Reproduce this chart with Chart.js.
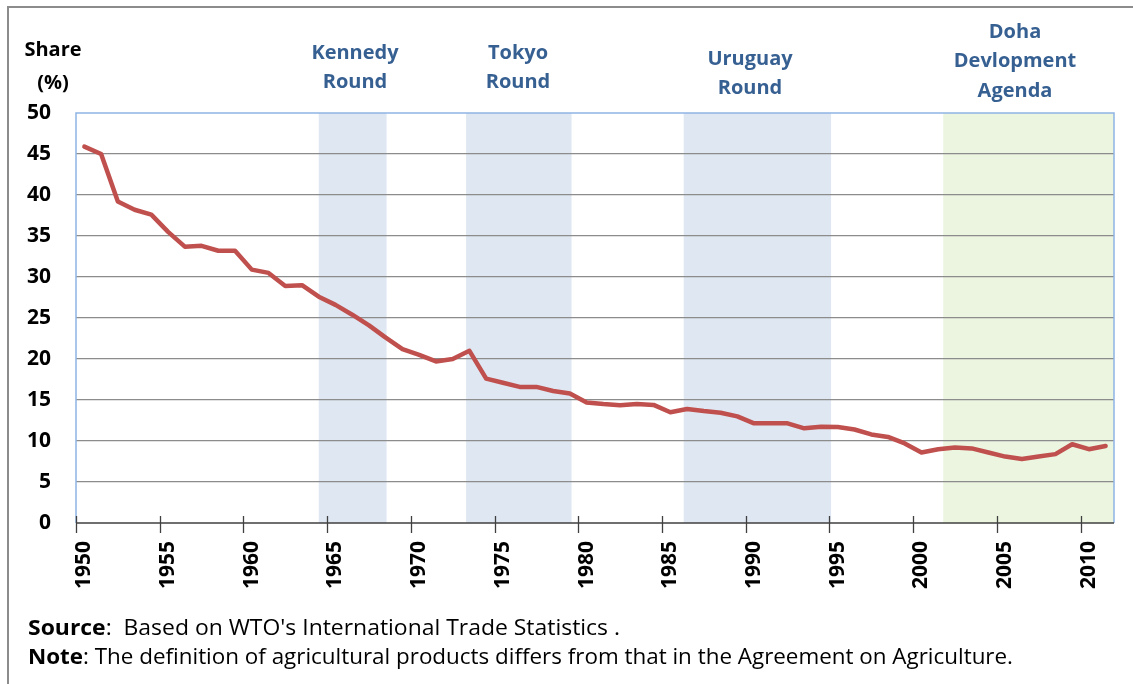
<!DOCTYPE html>
<html>
<head>
<meta charset="utf-8">
<script src="https://cdn.jsdelivr.net/npm/chart.js@4.4.0/dist/chart.umd.min.js"></script>
<style>
  html, body { margin: 0; padding: 0; background: #fff; }
  #wrap { width: 1133px; height: 684px; position: relative; }
</style>
</head>
<body>
<div id="wrap"><canvas id="shareChart"></canvas></div>
<script>
// years 1950..2011, share of agricultural products in world merchandise trade (%)
const years = []
for (let y = 1950; y <= 2011; y++) years.push(y)

const shareValues = [
    45.9, 45.0, 39.2, 38.2, 37.6, 35.5, 33.7, 33.8, 33.2, 33.2,
    30.9, 30.5, 28.9, 29.0, 27.6, 26.6, 25.4, 24.1, 22.6, 21.2,
    20.5, 19.7, 20.0, 21.0, 17.6, 17.1, 16.6, 16.6, 16.1, 15.8,
    14.7, 14.5, 14.35, 14.5, 14.4, 13.5, 13.9, 13.65, 13.45, 13.0,
    12.15, 12.15, 12.15, 11.55, 11.75, 11.7, 11.4, 10.8, 10.5, 9.7,
    8.6, 9.0, 9.2, 9.1, 8.6, 8.1, 7.8, 8.1, 8.4, 9.6,
    9.0, 9.4
]

const xTickYears = [1950, 1955, 1960, 1965, 1970, 1975, 1980, 1985, 1990, 1995, 2000, 2005, 2010]
const yTicks = [0, 5, 10, 15, 20, 25, 30, 35, 40, 45, 50]

// negotiation rounds: name lines, shaded span (in years)
const roundNames = [['Kennedy', 'Round'], ['Tokyo', 'Round'], ['Uruguay', 'Round'], ['Doha', 'Devlopment', 'Agenda']]
const roundStart = [1964.0, 1972.8, 1985.8, 2001.3]
const roundEnd = [1968.05, 1979.1, 1994.6, 2011.5]

const BLUE_BAND = '#dfe7f2'
const GREEN_BAND = '#ebf5e0'
const LABEL_BLUE = '#376092'
const FONT = '"Open Sans"'

const chartDecor = {
    id: 'chartDecor',
    beforeDraw(chart) {
        const {ctx, chartArea: a, scales: {x}} = chart
        ctx.save()
        ctx.fillStyle = '#fff'
        ctx.fillRect(0, 0, chart.width, chart.height)

        // outer frame (top and left only visible)
        ctx.strokeStyle = '#8c8c8c'
        ctx.lineWidth = 2
        ctx.beginPath()
        ctx.moveTo(8, chart.height)
        ctx.lineTo(8, 7)
        ctx.lineTo(chart.width, 7)
        ctx.stroke()

        roundStart.forEach((s, i) => {
            const x1 = x.getPixelForValue(s)
            const x2 = Math.min(x.getPixelForValue(roundEnd[i]), a.right)
            ctx.fillStyle = i === 3 ? GREEN_BAND : BLUE_BAND
            ctx.fillRect(x1, a.top, x2 - x1, a.bottom - a.top)
        })
        ctx.restore()
    },
    afterDraw(chart) {
        const {ctx, chartArea: a, scales: {x}} = chart
        ctx.save()

        // plot area border
        ctx.strokeStyle = '#8eb4e3'
        ctx.lineWidth = 1.5
        ctx.beginPath()
        ctx.moveTo(a.left, a.bottom)
        ctx.lineTo(a.left, a.top)
        ctx.lineTo(a.right, a.top)
        ctx.lineTo(a.right, a.bottom)
        ctx.stroke()

        // x axis line and crossing tick marks at category boundaries
        ctx.strokeStyle = '#404040'
        ctx.lineWidth = 1.3
        ctx.beginPath()
        ctx.moveTo(a.left, a.bottom)
        ctx.lineTo(a.right, a.bottom)
        xTickYears.forEach(yr => {
            const px = Math.round(x.getPixelForValue(yr - 0.5)) + 0.5
            ctx.moveTo(px, a.bottom - 7)
            ctx.lineTo(px, a.bottom + 10)
        })
        ctx.stroke()

        // axis title
        ctx.fillStyle = '#000'
        ctx.font = 'bold 20px ' + FONT
        ctx.textAlign = 'center'
        ctx.textBaseline = 'middle'
        ctx.fillText('Share', 53, 50)
        ctx.fillText('(%)', 53, 83)

        // round labels
        const labelX = [355, 518, 750, 1015]
        const labelTop = [53, 53, 59, 32]
        ctx.fillStyle = LABEL_BLUE
        ctx.font = 'bold 20px ' + FONT
        roundNames.forEach((lines, i) => {
            lines.forEach((t, j) => ctx.fillText(t, labelX[i], labelTop[i] + j * 29.5))
        })

        // footnotes
        drawNote(ctx, 'Source', ':  Based on WTO\'s International Trade Statistics .', 28, 629, 592)
        drawNote(ctx, 'Note', ': The definition of agricultural products differs from that in the Agreement on Agriculture.', 28, 658, 985)
        ctx.restore()
    }
}

function drawNote(ctx, boldPart, rest, x, y, targetWidth) {
    ctx.save()
    ctx.textAlign = 'left'
    ctx.textBaseline = 'middle'
    ctx.fillStyle = '#000'
    ctx.font = 'bold 21px ' + FONT
    const w1 = ctx.measureText(boldPart).width
    ctx.font = '21px ' + FONT
    const w2 = ctx.measureText(rest).width
    const s = targetWidth / (w1 + w2)
    ctx.translate(x, y)
    ctx.scale(s, 1)
    ctx.font = 'bold 21px ' + FONT
    ctx.fillText(boldPart, 0, 0)
    ctx.font = '21px ' + FONT
    ctx.fillText(rest, w1, 0)
    ctx.restore()
}

window.addEventListener('DOMContentLoaded', function () {
    const ctx = document.getElementById('shareChart')

    new Chart(ctx, {
        type: 'line',
        data: {
            datasets: [{
                label: 'Share',
                data: years.map((yr, i) => ({x: yr, y: shareValues[i]})),
                borderColor: '#c0504d',
                borderWidth: 4.5,
                borderJoinStyle: 'round',
                borderCapStyle: 'round',
                pointRadius: 0,
                tension: 0,
                fill: false
            }]
        },
        options: {
            responsive: true,
            maintainAspectRatio: false,
            animation: false,
            layout: {padding: {top: 113, right: 19, left: 0, bottom: 0}},
            plugins: {
                legend: {display: false},
                tooltip: {enabled: false}
            },
            scales: {
                x: {
                    type: 'linear',
                    min: 1949.5,
                    max: 2011.5,
                    afterBuildTicks: scale => {
                        scale.ticks = xTickYears.map(v => ({value: v}))
                    },
                    afterFit: scale => {
                        scale.height = 161
                    },
                    grid: {display: false, drawTicks: false},
                    border: {display: false},
                    ticks: {
                        autoSkip: false,
                        minRotation: 90,
                        maxRotation: 90,
                        padding: 18,
                        color: '#000',
                        font: {family: FONT, size: 21, weight: 'bold'},
                        callback: v => String(v)
                    }
                },
                y: {
                    min: 0,
                    max: 50,
                    afterBuildTicks: scale => {
                        scale.ticks = yTicks.map(v => ({value: v}))
                    },
                    afterFit: scale => {
                        scale.width = 76
                    },
                    grid: {
                        drawTicks: false,
                        lineWidth: 1.3,
                        color: c => (c.tick.value === 0 || c.tick.value === 50) ? 'rgba(0,0,0,0)' : '#8c8c8c'
                    },
                    border: {display: false},
                    ticks: {
                        padding: 25,
                        color: '#000',
                        font: {family: FONT, size: 21, weight: 'bold'}
                    }
                }
            }
        },
        plugins: [chartDecor]
    })
})
</script>
</body>
</html>
